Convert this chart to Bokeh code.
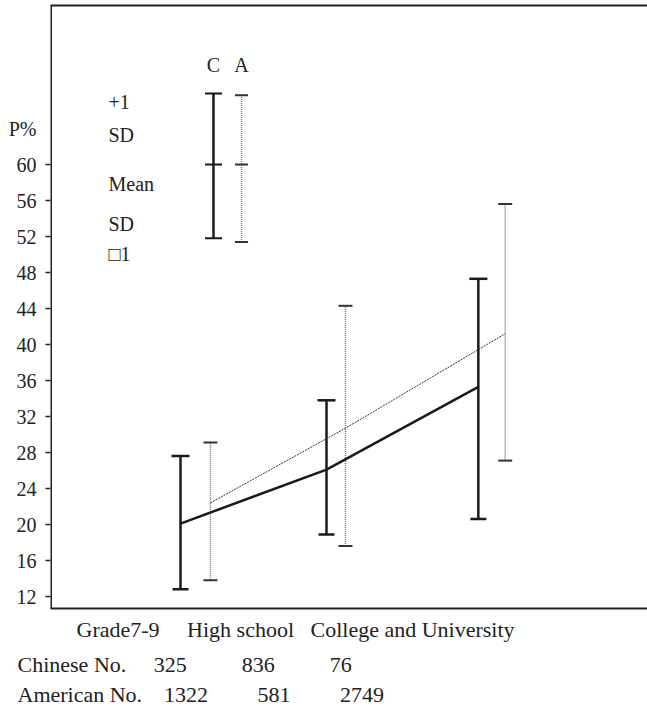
from bokeh.plotting import figure
from bokeh.models import (Range1d, LinearAxis, FixedTicker, Label, Whisker, Span,
                          BoxAnnotation, TeeHead, ColumnDataSource,
                          CustomLabelingPolicy, Title)
from bokeh.embed import file_html
from bokeh.resources import INLINE

# ---- data -------------------------------------------------------------
groups = ["Grade7-9", "High school", "College and University"]
chinese_n = [325, 836, 76]
american_n = [1322, 581, 2749]

# P% : mean and +/- 1 SD per school level
chinese_pos = [1.0, 2.0, 3.04]
chinese_mean = [20.1, 26.1, 35.3]
chinese_upper = [27.6, 33.8, 47.3]
chinese_lower = [12.8, 18.9, 20.6]

american_pos = [1.205, 2.13, 3.224]
american_mean = [22.4, 30.7, 41.2]
american_upper = [29.1, 44.3, 55.6]
american_lower = [13.8, 17.6, 27.1]

# key bars (C = Chinese, A = American)
key_names = ["C", "A"]
key_pos = [1.226, 1.418]
key_mean = [60, 60]
key_upper = [67.9, 67.7]
key_lower = [51.8, 51.4]
key_text = ["+1", "SD", "Mean", "SD", "\u25a11"]

y_ticks = list(range(12, 61, 4))
y_title = "P%"
y_title_at = 64

# ---- layout helpers (canvas pixels -> data units) -----------------------
W, H = 647, 708
FRAME_L, FRAME_T, FRAME_B, FRAME_R = 50, 5, 608, 647
X_PX0, X_PX_UNIT = 180, 146.0
Y_PX60, Y_PX_UNIT = 164, 9.0


def px_x(px):
    return 1 + (px - X_PX0) / X_PX_UNIT


def px_y(py):
    return 60 - (py - Y_PX60) / Y_PX_UNIT


FONT = "Liberation Serif"
INK = "#222222"

# no fills: the page behind the plot is white
p = figure(width=W, height=H, output_backend="svg", toolbar_location=None,
           x_range=Range1d(px_x(FRAME_L), px_x(FRAME_R)),
           y_range=Range1d(px_y(FRAME_B), px_y(FRAME_T)),
           min_border_left=FRAME_L, min_border_right=W - FRAME_R,
           min_border_top=FRAME_T, min_border_bottom=H - FRAME_B,
           background_fill_color=None, border_fill_color=None)
p.outline_line_color = None
p.grid.visible = False

no_labels = CustomLabelingPolicy(code="""
for (let i = 0; i < indices.size; i++) { indices.unset(i) }
return indices
""")


def bare_axis(ax):
    ax.ticker = FixedTicker(ticks=[])
    ax.major_label_text_font_size = "0px"
    ax.major_tick_out = 0
    ax.major_tick_in = 0
    ax.minor_tick_out = 0
    ax.minor_tick_in = 0
    ax.major_label_standoff = 0
    ax.axis_line_width = 2
    ax.axis_line_color = INK


# bottom and top frame lines
bare_axis(p.xaxis[0])
top = LinearAxis()
bare_axis(top)
p.add_layout(top, "above")

# left frame line
p.add_layout(Span(location=px_x(FRAME_L), dimension="height",
                  line_color=INK, line_width=3))

# left axis: tick marks only
ya = p.yaxis[0]
ya.ticker = FixedTicker(ticks=y_ticks)
ya.major_tick_in = 0
ya.major_tick_out = 5
ya.minor_tick_in = 0
ya.minor_tick_out = 0
ya.major_tick_line_width = 1.5
ya.major_tick_line_color = INK
ya.axis_line_color = None
ya.major_label_standoff = 0
ya.major_label_text_font_size = "0px"
ya.major_label_policy = no_labels

# left axis: tick labels, with the "P%" title in the slot above 60
ylab = LinearAxis(ticker=FixedTicker(ticks=y_ticks + [y_title_at]),
                  major_label_overrides={y_title_at: y_title},
                  axis_line_color=None, major_tick_out=0, major_tick_in=0,
                  minor_tick_out=0, minor_tick_in=0, major_label_standoff=9,
                  major_label_text_font=FONT, major_label_text_font_size="20px",
                  major_label_text_color=INK)
p.add_layout(ylab, "left")

# ---- American series: dotted bars, thin dotted mean line ---------------
am_src = ColumnDataSource(dict(x=american_pos, m=american_mean,
                               up=american_upper, lo=american_lower))
p.add_layout(Whisker(source=am_src, base="x", upper="up", lower="lo",
                     dimension="height", line_color="#777777", line_width=1.5,
                     line_dash="1 1",
                     upper_head=TeeHead(size=14, line_width=2, line_color="#333333"),
                     lower_head=TeeHead(size=14, line_width=2, line_color="#333333")))
p.line("x", "m", source=am_src, line_color="#333333", line_width=1,
       line_dash="2 1")

# ---- Chinese series: solid bars, thick mean line ------------------------
cn_src = ColumnDataSource(dict(x=chinese_pos, m=chinese_mean,
                               up=chinese_upper, lo=chinese_lower))
p.add_layout(Whisker(source=cn_src, base="x", upper="up", lower="lo",
                     dimension="height", line_color="#1a1a1a", line_width=2.5,
                     upper_head=TeeHead(size=18, line_width=2.5, line_color="#1a1a1a"),
                     lower_head=TeeHead(size=16, line_width=2.5, line_color="#1a1a1a")))
p.line("x", "m", source=cn_src, line_color="#1a1a1a", line_width=2.5)

# ---- key --------------------------------------------------------------
key_styles = [
    dict(line_color="#1a1a1a", line_width=2.5, line_dash="solid", head=17, cap="#1a1a1a"),
    dict(line_color="#777777", line_width=1.5, line_dash="1 1", head=13, cap="#333333"),
]
for i, st in enumerate(key_styles):
    src = ColumnDataSource(dict(x=[key_pos[i]], m=[key_mean[i]],
                                up=[key_upper[i]], lo=[key_lower[i]]))
    p.add_layout(Whisker(source=src, base="x", upper="up", lower="lo",
                         dimension="height", line_color=st["line_color"],
                         line_width=st["line_width"], line_dash=st["line_dash"],
                         upper_head=TeeHead(size=st["head"], line_width=2, line_color=st["cap"]),
                         lower_head=TeeHead(size=st["head"], line_width=2, line_color=st["cap"])))
    p.scatter("x", "m", source=src, marker="dash", size=st["head"],
              line_color=st["cap"], line_width=2)
    p.add_layout(Label(x=key_pos[i], y=px_y(64), text=key_names[i],
                       text_align="center", text_baseline="alphabetic",
                       text_font=FONT, text_font_size="20px", text_color=INK))

key_baselines = [101, 134, 183, 223, 253]
for txt, b in zip(key_text, key_baselines):
    p.add_layout(Label(x=px_x(108), y=px_y(b), text=txt, text_align="left",
                       text_baseline="alphabetic", text_font=FONT,
                       text_font_size="20px", text_color=INK))

# white strip along the open right side of the frame
p.add_layout(BoxAnnotation(left=px_x(FRAME_R - 3.5), right=px_x(FRAME_R + 3),
                           bottom=px_y(FRAME_B - 2), top=px_y(FRAME_T + 2),
                           fill_color="white", fill_alpha=1.0,
                           line_color=None, level="overlay"))

# ---- table under the chart: one line of text per row -------------------
# advance widths of Liberation Serif (per 1000 em), used to pad the columns
ADV = {" ": 250, "\u00a0": 250, ".": 250, "-": 333, "A": 722, "C": 667,
       "G": 722, "H": 722, "N": 722, "U": 722, "a": 444, "c": 444, "d": 500,
       "e": 444, "g": 500, "h": 500, "i": 278, "l": 278, "m": 778, "n": 500,
       "o": 500, "r": 333, "s": 389, "t": 278, "v": 500, "y": 500}
TABLE_PX = 22


def text_px(s):
    return sum(ADV.get(ch, 500) for ch in s) * TABLE_PX / 1000.0


def padded_row(cells, starts):
    out = cells[0]
    cur = starts[0] + text_px(cells[0])
    space = text_px("\u00a0")
    for cell, st in zip(cells[1:], starts[1:]):
        n = max(1, int(round((st - cur) / space)))
        out += "\u00a0" * n + cell
        cur += n * space + text_px(cell)
    return out


table_rows = [
    (list(groups), [76, 187, 312], 12),
    (["Chinese No."] + [str(n) for n in chinese_n], [17, 153, 240, 332], 5),
    (["American No."] + [str(n) for n in american_n], [17, 163, 255, 342], 0),
]
for cells, starts, standoff in table_rows:
    p.add_layout(Title(text=padded_row(cells, starts), align="left",
                       offset=starts[0] - FRAME_L, standoff=standoff,
                       text_font=FONT, text_font_size=f"{TABLE_PX}px",
                       text_font_style="normal", text_color=INK), "below")

open("out.html", "w").write(file_html(p, INLINE))
